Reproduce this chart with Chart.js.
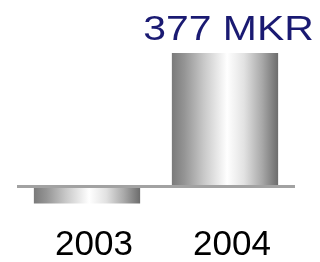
<!DOCTYPE html>
<html>
<head>
<meta charset="utf-8">
<script src="https://cdn.jsdelivr.net/npm/chart.js@4"></script>
<style>
body { margin: 0; background: #fff; }
#wrap { width: 320px; height: 262px; }
</style>
</head>
<body>
<div id="wrap"><canvas id="resultChart"></canvas></div>
<script>
// ===== data =====
// years on the x axis
let years = ['2003', '2004'];

// result per year (MKR), 2003
let results = [-48, 377];

// unit shown after the value label
let resultUnit = 'MKR';

// only these bars get a value label
let labelledYears = ['2004'];

// y axis range
let yMin = -66;
let yMax = 377;

// bar width as part of one category
let barPart = 0.77;

// ===== metal look gradient, one per bar =====
function metalGradient(c) {
    const chart = c.chart;
    const xs = chart.scales.x;
    if (!xs || !chart.chartArea) return '#bbbbbb';
    let center = xs.getPixelForValue(c.dataIndex);
    let half = (xs.width / years.length) * barPart / 2;
    let g = chart.ctx.createLinearGradient(center - half, 0, center + half, 0);
    g.addColorStop(0, '#7a7a7a');
    g.addColorStop(0.12, '#959595');
    g.addColorStop(0.3, '#c8c8c8');
    g.addColorStop(0.52, '#ffffff');
    g.addColorStop(0.68, '#e2e2e2');
    g.addColorStop(0.85, '#a8a8a8');
    g.addColorStop(1, '#6c6c6c');
    return g;
}

// ===== plugin: zero line, value label =====
const barDecor = {
    id: 'barDecor',
    afterDatasetsDraw(chart) {
        const ctx = chart.ctx;
        const area = chart.chartArea;
        let zeroY = chart.scales.y.getPixelForValue(0);

        // baseline over the bars
        ctx.save();
        ctx.strokeStyle = '#a2a2a2';
        ctx.lineWidth = 3;
        ctx.beginPath();
        ctx.moveTo(area.left - 1, zeroY);
        ctx.lineTo(area.right + 1, zeroY);
        ctx.stroke();
        ctx.restore();

        // value label above the bar, a bit stretched like the original
        chart.getDatasetMeta(0).data.forEach((bar, i) => {
            if (labelledYears.indexOf(years[i]) < 0) return;
            ctx.save();
            ctx.fillStyle = '#1a1a72';
            ctx.font = '35px "Liberation Sans", Arial, sans-serif';
            ctx.textAlign = 'center';
            ctx.textBaseline = 'alphabetic';
            ctx.translate(bar.x + 3.5, bar.y - 13);
            ctx.scale(1.17, 1);
            ctx.fillText(results[i] + ' ' + resultUnit, 0, 0);
            ctx.restore();
        });
    }
};

let resultChart = new Chart(document.getElementById('resultChart'), {
    type: 'bar',
    data: {
        labels: years,
        datasets: [{
            data: results,
            backgroundColor: metalGradient,
            borderWidth: 0,
            categoryPercentage: 1,
            barPercentage: barPart
        }]
    },
    options: {
        responsive: true,
        maintainAspectRatio: false,
        animation: false,
        layout: {
            padding: { top: 53, left: 18, right: 26, bottom: 0 }
        },
        plugins: {
            legend: { display: false },
            tooltip: { enabled: false }
        },
        scales: {
            x: {
                grid: { display: false, drawTicks: false },
                border: { display: false },
                afterFit: (scale) => { scale.height = 52; },
                ticks: {
                    color: '#000',
                    padding: 14,
                    labelOffset: 7,
                    font: { family: '"Liberation Sans", Arial, sans-serif', size: 35 }
                }
            },
            y: {
                display: false,
                min: yMin,
                max: yMax
            }
        }
    },
    plugins: [barDecor]
});
</script>
</body>
</html>
